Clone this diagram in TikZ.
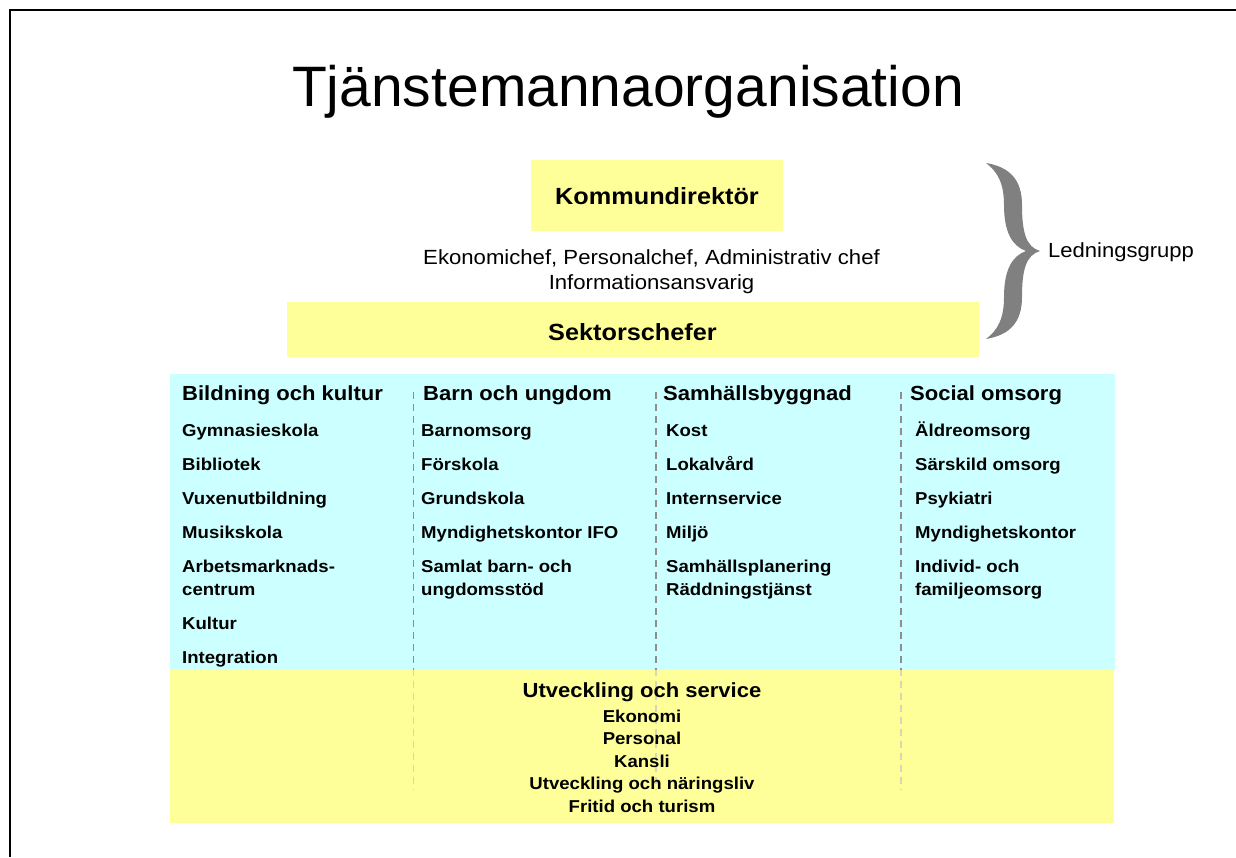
\documentclass[tikz,border=0pt]{standalone}
\usepackage{fontspec}
\setmainfont{Liberation Sans}
\newfontfamily\wide{Liberation Sans}[FakeStretch=1.08]
\definecolor{ylw}{HTML}{FFFF99}
\definecolor{cyn}{HTML}{CCFFFF}
\definecolor{bracegray}{HTML}{808080}
\definecolor{divdark}{HTML}{8E8E8E}
\definecolor{divlight}{HTML}{D6D6BC}
\tikzset{
  boss/.style={anchor=base, inner sep=0, font=\wide\bfseries\fontsize{23.4}{28}\selectfont},
  staff/.style={anchor=base, inner sep=0, font=\wide\fontsize{20.5}{25}\selectfont},
  head/.style={anchor=base west, inner sep=0, font=\wide\bfseries\fontsize{20.4}{24}\selectfont},
  item/.style={anchor=base west, inner sep=0, font=\wide\bfseries\fontsize{17.2}{21}\selectfont},
  citem/.style={anchor=base, inner sep=0, font=\wide\bfseries\fontsize{17.2}{21}\selectfont},
  divider/.style={dash pattern=on 7pt off 5pt, line width=1.2pt},
}
\begin{document}
\begin{tikzpicture}[x=1pt,y=-1pt]
\useasboundingbox (0,0) rectangle (1236,857);

% page frame
\draw[line width=2.6pt] (10,857) -- (10,10) -- (1236,10);

% heading
\node (title) [anchor=base, inner sep=0, font=\fontsize{57}{60}\selectfont] at (628,106) {Tjänstemannaorganisation};

% management boxes
\fill[ylw] (531,160) rectangle (783,231);
\node (kd) [boss] at (657,204) {Kommundirektör};
\node (staff1) [staff] at (651.5,264) {Ekonomichef, Personalchef, Administrativ chef};
\node (staff2) [staff] at (651.5,289.5) {Informationsansvarig};
\fill[ylw] (287,302) rectangle (979,357);
\node (sek) [boss] at (632.5,340.5) {Sektorschefer};

% brace for the management group
\fill[bracegray] (986,163)
  .. controls (1010,167) and (1022,180) .. (1022,205)
  .. controls (1022,232) and (1026,247) .. (1040,251)
  .. controls (1026,255) and (1022,270) .. (1022,297)
  .. controls (1022,322) and (1010,335) .. (986,339)
  .. controls (998,330) and (1004,318) .. (1004,297)
  .. controls (1004,270) and (1012,256) .. (1026,251)
  .. controls (1012,246) and (1004,232) .. (1004,205)
  .. controls (1004,184) and (998,172) .. (986,163) -- cycle;
\node (lg) [anchor=base west, inner sep=0, font=\wide\fontsize{20.4}{24}\selectfont] at (1048,257) {Ledningsgrupp};

% sector area and shared service area
\fill[cyn] (170,374) rectangle (1115,669.5);
\foreach \x in {413.5,656,901}{
  \draw[divider, divdark] (\x,392) -- (\x,669.5);
}
\fill[ylw] (170,669.5) rectangle (1114,823);
\foreach \x in {413.5,656,901}{
  \draw[divider, divlight, dash phase=1pt] (\x,669.5) -- (\x,790);
}

% sector 1
\node (h1) [head] at (182,400) {Bildning och kultur};
\node (a1) [item] at (182,436) {Gymnasieskola};
\node (a2) [item] at (182,470.2) {Bibliotek};
\node (a3) [item] at (182,504.4) {Vuxenutbildning};
\node (a4) [item] at (182,538.6) {Musikskola};
\node (a5) [item] at (182,572.6) {Arbetsmarknads-};
\node (a5b) [item] at (182,595.4) {centrum};
\node (a6) [item] at (182,629.4) {Kultur};
\node (a7) [item] at (182,663.4) {Integration};

% sector 2
\node (h2) [head] at (423,400) {Barn och ungdom};
\node (b1) [item] at (421,436) {Barnomsorg};
\node (b2) [item] at (421,470.2) {Förskola};
\node (b3) [item] at (421,504.4) {Grundskola};
\node (b4) [item] at (421,538.6) {Myndighetskontor IFO};
\node (b5) [item] at (421,572.6) {Samlat barn- och};
\node (b5b) [item] at (421,595.4) {ungdomsstöd};

% sector 3
\node (h3) [head] at (663,400) {Samhällsbyggnad};
\node (c1) [item] at (666,436) {Kost};
\node (c2) [item] at (666,470.2) {Lokalvård};
\node (c3) [item] at (666,504.4) {Internservice};
\node (c4) [item] at (666,538.6) {Miljö};
\node (c5) [item] at (666,572.6) {Samhällsplanering};
\node (c5b) [item] at (666,595.4) {Räddningstjänst};

% sector 4
\node (h4) [head] at (910,400) {Social omsorg};
\node (d1) [item] at (915,436) {Äldreomsorg};
\node (d2) [item] at (915,470.2) {Särskild omsorg};
\node (d3) [item] at (915,504.4) {Psykiatri};
\node (d4) [item] at (915,538.6) {Myndighetskontor};
\node (d5) [item] at (915,572.6) {Individ- och};
\node (d5b) [item] at (915,595.4) {familjeomsorg};

% shared services
\node (us) [anchor=base, inner sep=0, font=\wide\bfseries\fontsize{20.4}{24}\selectfont] at (642,697) {Utveckling och service};
\node (u1) [citem] at (642,722) {Ekonomi};
\node (u2) [citem] at (642,744.5) {Personal};
\node (u3) [citem] at (642,767) {Kansli};
\node (u4) [citem] at (642,789.5) {Utveckling och näringsliv};
\node (u5) [citem] at (642,812) {Fritid och turism};
\end{tikzpicture}
\end{document}
